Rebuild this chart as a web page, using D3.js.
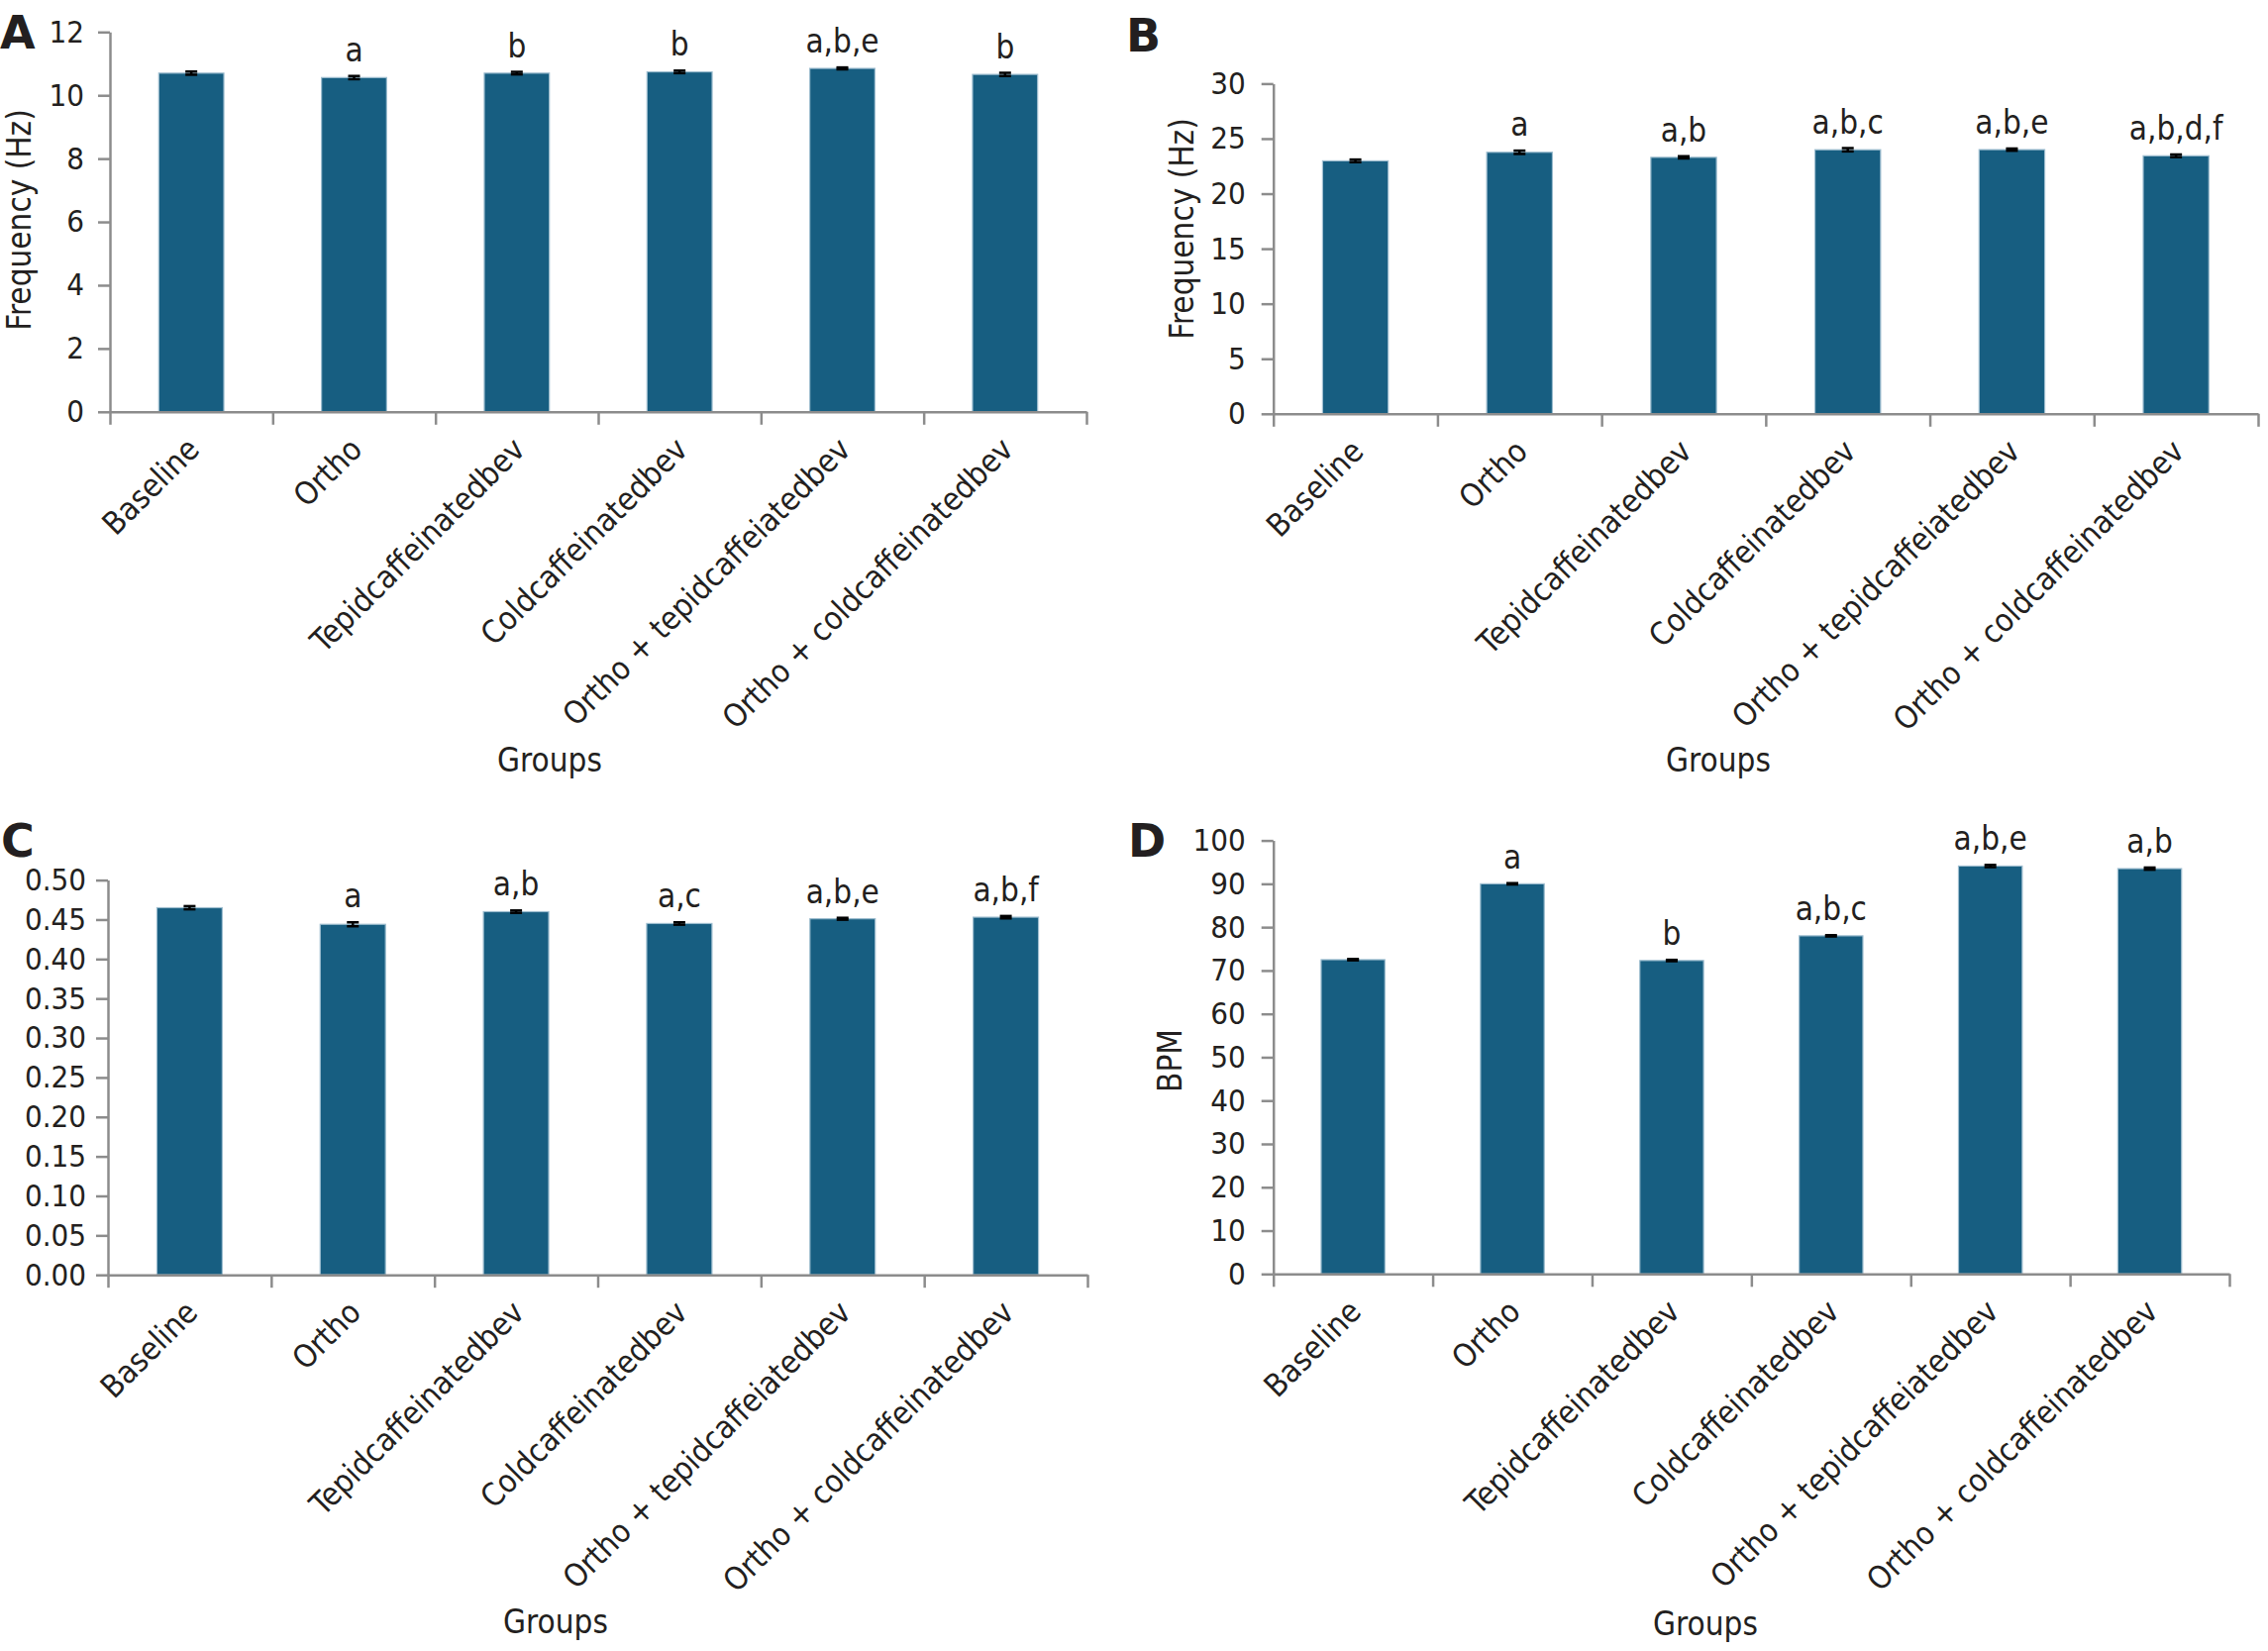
<!DOCTYPE html>
<html>
<head>
<meta charset="utf-8">
<script src="https://cdn.jsdelivr.net/npm/d3@7"></script>
<style>
  body { margin: 0; background: #fff; }
  text { font-family: "DejaVu Sans Condensed", "DejaVu Sans", sans-serif; font-stretch: condensed; fill: #231f20; }
  .letter { font-family: "DejaVu Sans", sans-serif; font-stretch: normal; font-weight: bold; }
</style>
</head>
<body>
<script>
// groups on the x axis (same in all four panels)
const groups = ['Baseline', 'Ortho', 'Tepidcaffeinatedbev', 'Coldcaffeinatedbev',
    'Ortho + tepidcaffeiatedbev', 'Ortho + coldcaffeinatedbev'];

// A - frequency (Hz)
const valuesA = [10.70, 10.56, 10.70, 10.74, 10.85, 10.66];
const errorsA = [0.05, 0.05, 0.04, 0.04, 0.03, 0.05];
const signifA = ['', 'a', 'b', 'b', 'a,b,e', 'b'];
const ticksA = [0, 2, 4, 6, 8, 10, 12];

// B - frequency (Hz)
const valuesB = [22.98, 23.76, 23.30, 23.99, 24.00, 23.44];
const errorsB = [0.12, 0.15, 0.10, 0.15, 0.10, 0.12];
const signifB = ['', 'a', 'a,b', 'a,b,c', 'a,b,e', 'a,b,d,f'];
const ticksB = [0, 5, 10, 15, 20, 25, 30];

// C
const valuesC = [0.465, 0.444, 0.460, 0.445, 0.451, 0.453];
const errorsC = [0.002, 0.0025, 0.0015, 0.0015, 0.0012, 0.0015];
const signifC = ['', 'a', 'a,b', 'a,c', 'a,b,e', 'a,b,f'];
const ticksC = [0, 0.05, 0.10, 0.15, 0.20, 0.25, 0.30, 0.35, 0.40, 0.45, 0.50];

// D - BPM
const valuesD = [72.5, 90.0, 72.3, 78.0, 94.1, 93.5];
const errorsD = [0.15, 0.15, 0.15, 0.15, 0.25, 0.25];
const signifD = ['', 'a', 'b', 'a,b,c', 'a,b,e', 'a,b'];
const ticksD = [0, 10, 20, 30, 40, 50, 60, 70, 80, 90, 100];

const panels = [
    { id: 'A', values: valuesA, errors: errorsA, signif: signifA, ticks: ticksA, fmt: d3.format('d'),
      left: 111, right: 1097, top: 32.3, bottom: 415.8, pad: 14,
      yLabel: 'Frequency (Hz)', yLabelPos: [31, 222], groupsPos: [555, 779], letterPos: [0, 49] },
    { id: 'B', values: valuesB, errors: errorsB, signif: signifB, ticks: ticksB, fmt: d3.format('d'),
      left: 1285.7, right: 2280, top: 84.4, bottom: 417.8, pad: 16,
      yLabel: 'Frequency (Hz)', yLabelPos: [1205, 231], groupsPos: [1735, 779], letterPos: [1137, 52] },
    { id: 'C', values: valuesC, errors: errorsC, signif: signifC, ticks: ticksC, fmt: d3.format('.2f'),
      left: 109, right: 1098, top: 888.6, bottom: 1287.2, pad: 10,
      yLabel: null, groupsPos: [561, 1649], letterPos: [1, 865] },
    { id: 'D', values: valuesD, errors: errorsD, signif: signifD, ticks: ticksD, fmt: d3.format('d'),
      left: 1285.7, right: 2251, top: 848.6, bottom: 1286.3, pad: 16,
      yLabel: 'BPM', yLabelPos: [1193, 1071], groupsPos: [1722, 1651], letterPos: [1139, 865] }
];

const barColor = '#175e81';
const axisColor = '#8c8c8c';

const svg = d3.select('body').append('svg')
    .attr('width', 2290)
    .attr('height', 1667);

function drawPanel (p) {
    const g = svg.append('g').classed('panel panel' + p.id, true);

    const x = d3.scaleBand().domain(groups).range([p.left, p.right]);
    const edges = d3.scaleLinear().domain([0, groups.length]).range([p.left, p.right]);
    const y = d3.scaleLinear().domain([0, d3.max(p.ticks)]).range([p.bottom, p.top]);
    const barW = x.bandwidth() * 0.4;

    // bars
    g.append('g').selectAll('rect')
        .data(p.values)
        .join('rect')
        .attr('x', (d, i) => x(groups[i]) + (x.bandwidth() - barW) / 2)
        .attr('y', d => y(d))
        .attr('width', barW)
        .attr('height', d => y(0) - y(d))
        .attr('fill', barColor)
        .attr('stroke', '#9dbdcf')
        .attr('stroke-width', 1.2);

    // error bars
    const eb = g.append('g').attr('stroke', '#000').attr('stroke-width', 2.5);
    p.values.forEach((v, i) => {
        const cx = x(groups[i]) + x.bandwidth() / 2;
        const e = p.errors[i];
        eb.append('line').attr('x1', cx).attr('x2', cx).attr('y1', y(v - e)).attr('y2', y(v + e));
        [v - e, v + e].forEach(t => {
            eb.append('line').attr('x1', cx - 6).attr('x2', cx + 6).attr('y1', y(t)).attr('y2', y(t));
        });
    });

    // significance letters
    g.append('g').selectAll('text')
        .data(p.signif)
        .join('text')
        .attr('x', (d, i) => x(groups[i]) + x.bandwidth() / 2)
        .attr('y', (d, i) => y(p.values[i] + p.errors[i]) - 15)
        .attr('text-anchor', 'middle')
        .style('font-size', '33px')
        .text(d => d);

    // y axis
    const yAxis = g.append('g')
        .attr('transform', `translate(${p.left},0)`)
        .call(d3.axisLeft(y).tickValues(p.ticks).tickFormat(p.fmt).tickSize(12).tickSizeOuter(0).tickPadding(p.pad));
    yAxis.selectAll('text').style('font-size', '31px').attr('fill', '#231f20');

    // x axis, ticks at group boundaries
    const xAxis = g.append('g')
        .attr('transform', `translate(0,${p.bottom})`)
        .call(d3.axisBottom(edges).tickValues(d3.range(groups.length + 1)).tickFormat('').tickSize(13).tickSizeOuter(0));

    [yAxis, xAxis].forEach(a => {
        a.select('.domain').attr('stroke', axisColor).attr('stroke-width', 2.5);
        a.selectAll('.tick line').attr('stroke', axisColor).attr('stroke-width', 2.5);
    });

    // rotated group labels
    g.append('g').selectAll('text')
        .data(groups)
        .join('text')
        .attr('transform', d => `translate(${x(d) + x.bandwidth() / 2 + 2},${p.bottom + 32}) rotate(-45)`)
        .attr('text-anchor', 'end')
        .attr('dy', '0.35em')
        .style('font-size', '32px')
        .text(d => d);

    // axis titles
    g.append('text')
        .attr('x', p.groupsPos[0])
        .attr('y', p.groupsPos[1])
        .attr('text-anchor', 'middle')
        .style('font-size', '33px')
        .text('Groups');

    if (p.yLabel) {
        g.append('text')
            .attr('transform', `translate(${p.yLabelPos[0]},${p.yLabelPos[1]}) rotate(-90)`)
            .attr('text-anchor', 'middle')
            .style('font-size', '33px')
            .text(p.yLabel);
    }

    g.append('text')
        .classed('letter', true)
        .attr('x', p.letterPos[0])
        .attr('y', p.letterPos[1])
        .style('font-size', '46px')
        .text(p.id);
}

panels.forEach(drawPanel);
</script>
</body>
</html>
